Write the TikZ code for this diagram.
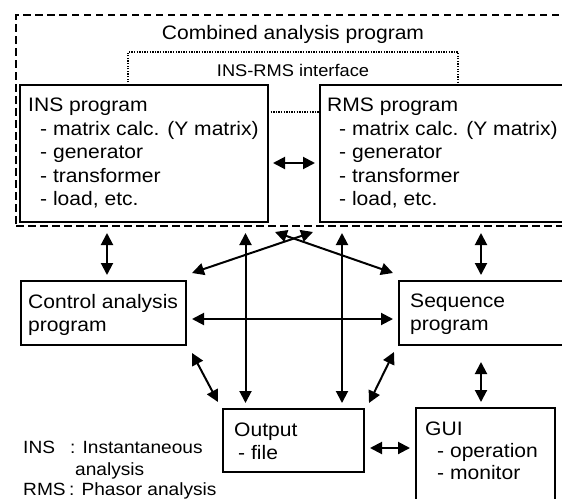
\documentclass[tikz,border=0pt]{standalone}
\usepackage{fontspec}
\setmainfont{Liberation Sans}[FakeStretch=1.08]
\usetikzlibrary{arrows.meta,calc}
\begin{document}
\begin{tikzpicture}[x=1pt,y=-1pt,
  box/.style={draw, line width=2pt, inner sep=0pt, outer sep=0pt, anchor=north west},
  dashbox/.style={draw, line width=1.8pt, dash pattern=on 7.5pt off 4.5pt, inner sep=0pt, outer sep=0pt, anchor=north west},
  txt/.style={inner sep=0pt, anchor=north west, align=left, font=\fontsize{19.5}{23.5}\selectfont},
  ttl/.style={inner sep=0pt, anchor=base, font=\fontsize{19.5}{23.5}\selectfont},
  ttlsmall/.style={inner sep=0pt, anchor=base, font=\fontsize{16.9}{20}\selectfont},
  leg/.style={inner sep=0pt, anchor=base west, font=\fontsize{17.7}{21}\selectfont},
  dbl/.style={{Triangle[length=12pt,width=12pt]}-{Triangle[length=12pt,width=12pt]}, line width=2pt},
  dotline/.style={line width=1.3pt, dash pattern=on 1.3pt off 1.3pt}]
\useasboundingbox (0,0) rectangle (562,498);
\fill[white] (0,0) rectangle (562,498);
\clip (0,0) rectangle (562,498);

% containers and boxes
\node[dashbox, minimum width=580pt, minimum height=211pt] (comb) at (16,15) {};
\node[box, minimum width=248pt, minimum height=137pt] (ins) at (20,85) {};
\node[box, minimum width=260pt, minimum height=137pt] (rms) at (320,85) {};
\node[box, minimum width=165pt, minimum height=64pt] (ctrl) at (21,281) {};
\node[box, minimum width=200pt, minimum height=64pt] (seq) at (399,281) {};
\node[box, minimum width=141pt, minimum height=63pt] (out) at (223,409) {};
\node[box, minimum width=139pt, minimum height=120pt] (gui) at (416,408) {};

% titles
\node[ttl] (combt) at (293,39) {Combined analysis program};
\node[ttlsmall] (ift) at (293,76) {INS-RMS interface};

% box texts
\node[txt] (inst) at (28,98) {INS program\\\hspace*{12pt}- matrix calc. (Y matrix)\\\hspace*{12pt}- generator\\\hspace*{12pt}- transformer\\\hspace*{12pt}- load, etc.};
\node[txt] (rmst) at (327,98) {RMS program\\\hspace*{12pt}- matrix calc. (Y matrix)\\\hspace*{12pt}- generator\\\hspace*{12pt}- transformer\\\hspace*{12pt}- load, etc.};
\node[txt, font=\fontsize{19.5}{23}\selectfont] (ctrlt) at (28,294) {Control analysis\\program};
\node[txt, font=\fontsize{19.5}{23}\selectfont] (seqt) at (410,294) {Sequence\\program};
\node[txt, font=\fontsize{19.5}{23}\selectfont] (outt) at (234,423) {Output\\\hspace*{4pt}- file};
\node[txt, font=\fontsize{19.5}{22}\selectfont] (guit) at (425,422) {GUI\\\hspace*{12pt}- operation\\\hspace*{12pt}- monitor};

% legend
\node[leg] (l1) at (23,453) {INS};
\node[leg] (l2) at (70,453) {: Instantaneous};
\node[leg] (l3) at (75,475) {analysis};
\node[leg] (l4) at (23,495) {RMS};
\node[leg] (l5) at (69,495) {: Phasor analysis};

% interface (dotted)
\coordinate (ifl) at (128,52);
\coordinate (ifr) at (458,52);
\draw[dotline] (ins.north -| ifl) -- (ifl) -- (ifr) -- (rms.north -| ifr);
\draw[dotline] (ins.east |- 0,112) -- (rms.west |- 0,112);

% connectors
\draw[dbl, shorten <=5pt, shorten >=5pt] (ins.east |- 0,163) -- (rms.west |- 0,163);
\draw[dbl, shorten <=11pt, shorten >=6pt] (ins.south -| 107,0) -- (ctrl.north -| 107,0);
\draw[dbl, shorten <=11pt, shorten >=6pt] (rms.south -| 481,0) -- (seq.north -| 481,0);
\draw[dbl, shorten <=11pt, shorten >=6pt] (ins.south -| 245.5,0) -- (out.north -| 245.5,0);
\draw[dbl, shorten <=11pt, shorten >=6pt] (rms.south -| 342,0) -- (out.north -| 342,0);
\draw[dbl] ($(ctrl.north east)+(6,-8)$) -- ($(comb.south -| 313,0)+(0,6)$);
\draw[dbl] ($(seq.north west)+(-6,-8)$) -- ($(comb.south -| 275,0)+(0,6)$);
\draw[dbl, shorten <=6pt, shorten >=6pt] (ctrl.east |- 0,319) -- (seq.west |- 0,319);
\draw[dbl] ($(ctrl.south east)+(6,8)$) -- ($(out.north west)+(-5,-7)$);
\draw[dbl] ($(seq.south west)+(-5,7)$) -- ($(out.north east)+(5,-6)$);
\draw[dbl, shorten <=17pt, shorten >=6pt] (seq.south -| 481,0) -- (gui.north -| 481,0);
\draw[dbl, shorten <=6pt, shorten >=6pt] (out.east |- 0,448) -- (gui.west |- 0,448);
\end{tikzpicture}
\end{document}
